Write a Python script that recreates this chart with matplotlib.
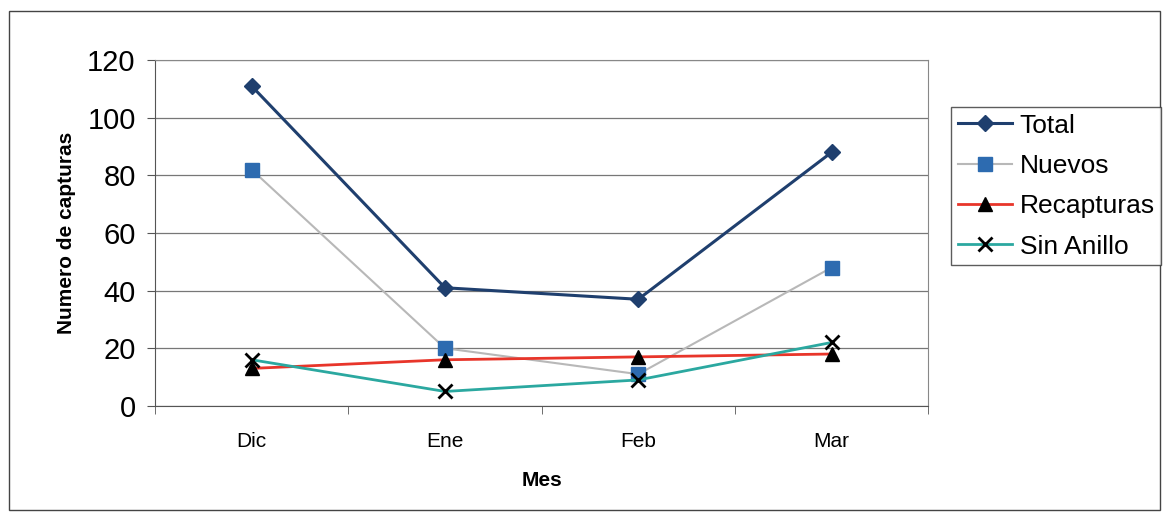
import matplotlib.pyplot as plt
from matplotlib.patches import Rectangle

plt.rcParams['font.family'] = ['Liberation Sans', 'DejaVu Sans']

meses = ['Dic', 'Ene', 'Feb', 'Mar']
total = [111, 41, 37, 88]
nuevos = [82, 20, 11, 48]
recapturas = [13, 16, 17, 18]
sin_anillo = [16, 5, 9, 22]

fig = plt.figure(figsize=(11.66, 5.19), dpi=100)
ax = fig.add_axes([0.133, 0.218, 0.663, 0.666])

x = range(len(meses))
ax.plot(x, total, color='#1f3f6e', lw=2.2, marker='D', ms=8, mfc='#1f3f6e', mec='#1f3f6e', label='Total', zorder=4)
ax.plot(x, nuevos, color='#b8b8b8', lw=1.5, marker='s', ms=10, mfc='#2d6bb0', mec='#2d6bb0', label='Nuevos', zorder=3)
ax.plot(x, recapturas, color='#e8352a', lw=2, marker='^', ms=10, mfc='black', mec='black', label='Recapturas', zorder=3)
ax.plot(x, sin_anillo, color='#2ba8a0', lw=2, marker='x', ms=10, mew=2, mec='black', label='Sin Anillo', zorder=3)

ax.set_xlim(-0.5, 3.5)
ax.set_ylim(0, 120)
ax.set_yticks(range(0, 121, 20))
ax.tick_params(axis='y', labelsize=21, length=6, color='#555555', direction='out', pad=8)
ax.set_xticks(x)
ax.set_xticklabels(meses)
ax.set_xticks([-0.5, 0.5, 1.5, 2.5, 3.5], minor=True)
ax.tick_params(axis='x', which='major', length=0, labelsize=15, pad=19)
ax.tick_params(axis='x', which='minor', length=6, color='#555555', direction='out')
ax.grid(axis='y', color='#777777', lw=0.9)
ax.set_axisbelow(True)
for side in ['top', 'right']:
    ax.spines[side].set_color('#888888')
for side in ['left', 'bottom']:
    ax.spines[side].set_color('#555555')

ax.set_xlabel('Mes', fontsize=15, fontweight='bold', labelpad=14)
ax.set_ylabel('Numero de capturas', fontsize=15, fontweight='bold', labelpad=8)

leg = fig.legend(loc='upper left', bbox_to_anchor=(0.8156, 0.794), borderaxespad=0,
                 fontsize=19, frameon=True, fancybox=False, edgecolor='#333333',
                 handlelength=2.05, handletextpad=0.3, borderpad=0.25, labelspacing=0.62)
leg.get_frame().set_linewidth(1)

# marco exterior del grafico
fig.patches.append(Rectangle((0.008, 0.018), 0.987, 0.96, transform=fig.transFigure,
                             fill=False, edgecolor='#444444', lw=1))

fig.savefig('out.png', dpi=100)
